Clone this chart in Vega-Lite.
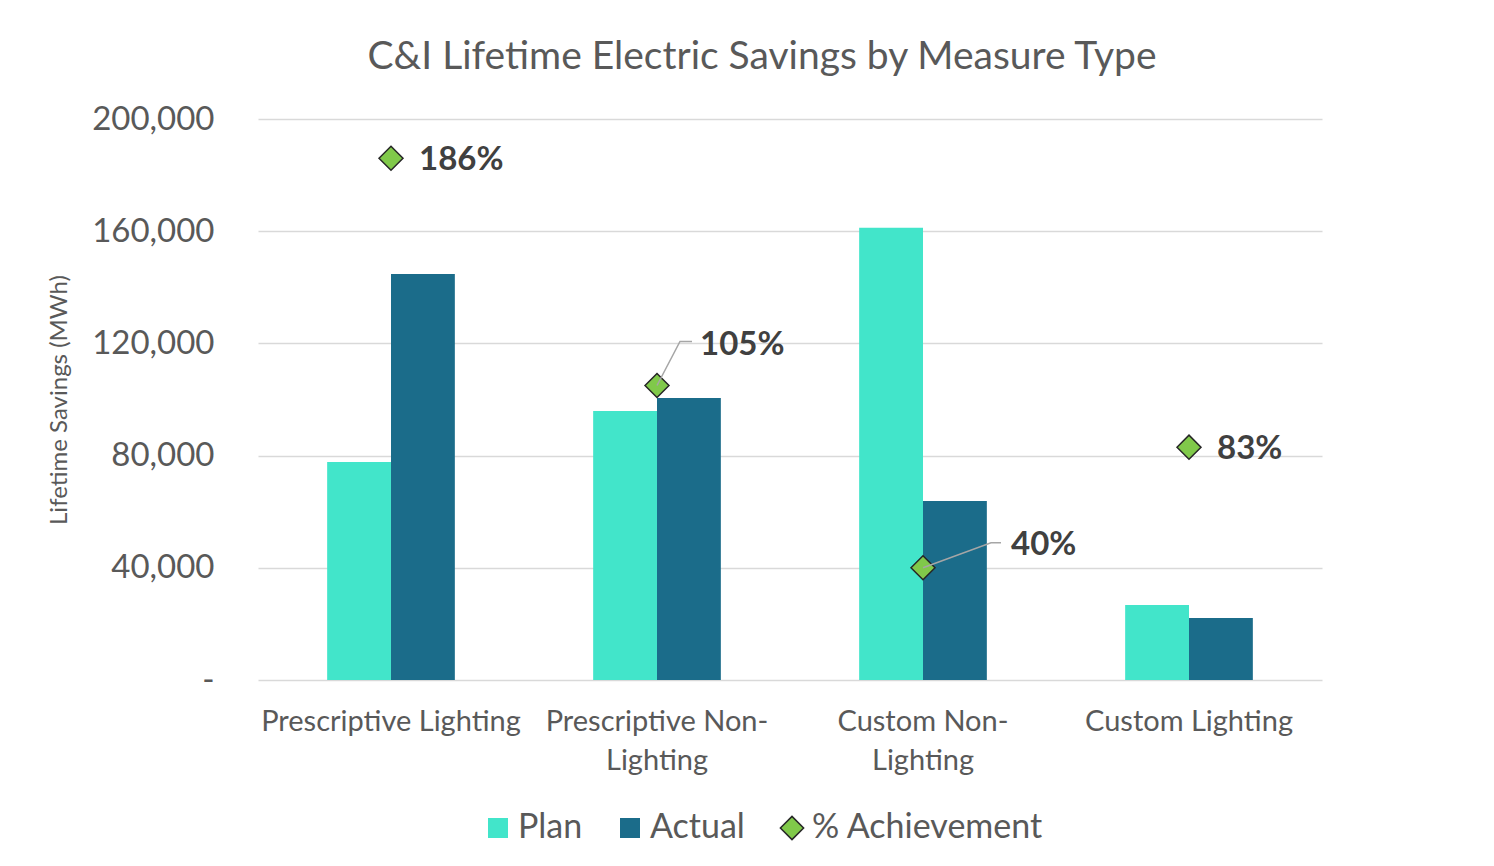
{
  "$schema": "https://vega.github.io/schema/vega-lite/v6.json",
  "width": 1064,
  "height": 561,
  "autosize": {"type": "none"},
  "padding": {"left": 258, "top": 119, "right": 172, "bottom": 186},
  "background": "white",
  "config": {
    "font": "Lato",
    "view": {"stroke": null},
    "axis": {"labelFont": "Lato", "titleFont": "Lato"},
    "legend": {"labelFont": "Lato"}
  },
  "title": {
    "text": "C&I Lifetime Electric Savings by Measure Type",
    "font": "Lato",
    "fontSize": 39,
    "fontWeight": "normal",
    "color": "#595959",
    "anchor": "middle",
    "offset": 26,
    "dx": -28
  },
  "datasets": {
    "bars": [
      {"measure": "Prescriptive Lighting", "series": "Plan", "value": 77700},
      {"measure": "Prescriptive Lighting", "series": "Actual", "value": 144700},
      {"measure": "Prescriptive Non-Lighting", "series": "Plan", "value": 95900},
      {"measure": "Prescriptive Non-Lighting", "series": "Actual", "value": 100500},
      {"measure": "Custom Non-Lighting", "series": "Plan", "value": 161200},
      {"measure": "Custom Non-Lighting", "series": "Actual", "value": 63800},
      {"measure": "Custom Lighting", "series": "Plan", "value": 26700},
      {"measure": "Custom Lighting", "series": "Actual", "value": 22100}
    ],
    "pct": [
      {"measure": "Prescriptive Lighting", "pct": 1.86},
      {"measure": "Prescriptive Non-Lighting", "pct": 1.05},
      {"measure": "Custom Non-Lighting", "pct": 0.40},
      {"measure": "Custom Lighting", "pct": 0.83}
    ]
  },
  "layer": [
    {
      "data": {"name": "bars"},
      "mark": {"type": "bar"},
      "encoding": {
        "x": {
          "field": "measure",
          "type": "nominal",
          "sort": ["Prescriptive Lighting", "Prescriptive Non-Lighting", "Custom Non-Lighting", "Custom Lighting"],
          "scale": {"paddingInner": 0.52, "paddingOuter": 0.26},
          "axis": {
            "title": null,
            "labelAngle": 0,
            "domain": false,
            "ticks": false,
            "labelFontSize": 29,
            "labelColor": "#595959",
            "labelPadding": 27,
            "labelLineHeight": 39,
            "labelBaseline": "top",
            "labelLimit": 0,
            "labelExpr": "datum.value == 'Prescriptive Non-Lighting' ? ['Prescriptive Non-', 'Lighting'] : datum.value == 'Custom Non-Lighting' ? ['Custom Non-', 'Lighting'] : datum.value"
          }
        },
        "xOffset": {
          "field": "series",
          "type": "nominal",
          "sort": ["Plan", "Actual"],
          "scale": {"paddingInner": 0, "paddingOuter": 0}
        },
        "y": {
          "field": "value",
          "type": "quantitative",
          "scale": {"domain": [0, 200000]},
          "axis": {
            "title": "Lifetime Savings (MWh)",
            "titleFontSize": 24,
            "titleFontWeight": "normal",
            "titleColor": "#595959",
            "titlePadding": 20,
            "values": [0, 40000, 80000, 120000, 160000, 200000],
            "grid": true,
            "gridColor": "#D9D9D9",
            "gridWidth": 1.5,
            "domain": false,
            "ticks": false,
            "labelFontSize": 33,
            "labelColor": "#595959",
            "labelPadding": 44,
            "labelExpr": "datum.value == 0 ? '-\u00a0\u00a0\u00a0' : format(datum.value, ',')"
          }
        },
        "color": {
          "field": "series",
          "type": "nominal",
          "scale": {
            "domain": ["Plan", "Actual", "% Achievement"],
            "range": ["#42E5CA", "#1B6C8A", "#80C94A"]
          },
          "legend": {
            "title": null,
            "orient": "none",
            "direction": "horizontal",
            "legendX": 223,
            "legendY": 692,
            "labelFontSize": 34,
            "labelColor": "#595959",
            "labelLimit": 0,
            "labelOffset": 3,
            "columnPadding": 30,
            "symbolType": "square",
            "symbolSize": 400,
            "symbolOpacity": 1,
            "encode": {
              "symbols": {
                "update": {
                  "shape": {"signal": "datum.value === '% Achievement' ? 'diamond' : 'square'"},
                  "size": {"signal": "datum.value === '% Achievement' ? 540 : 400"},
                  "stroke": {"signal": "datum.value === '% Achievement' ? '#262626' : 'transparent'"},
                  "strokeWidth": {"value": 1.5}
                }
              }
            }
          }
        }
      }
    },
    {
      "data": {"name": "pct"},
      "encoding": {
        "x": {
          "field": "measure",
          "type": "nominal",
          "sort": ["Prescriptive Lighting", "Prescriptive Non-Lighting", "Custom Non-Lighting", "Custom Lighting"]
        },
        "y": {
          "field": "pct",
          "type": "quantitative",
          "scale": {"domain": [0, 2]},
          "axis": null
        }
      },
      "layer": [
        {
          "mark": {"type": "point", "shape": "diamond", "filled": true, "size": 576, "stroke": "#262626", "strokeWidth": 1.5, "opacity": 1},
          "encoding": {"color": {"datum": "% Achievement"}}
        },
        {
          "transform": [{"filter": "datum.measure == 'Prescriptive Non-Lighting'"}],
          "mark": {"type": "point", "shape": "M0,0L23,-44L35,-44", "filled": false, "size": 4, "color": "#A6A6A6", "strokeWidth": 1.5, "opacity": 1}
        },
        {
          "transform": [{"filter": "datum.measure == 'Custom Non-Lighting'"}],
          "mark": {"type": "point", "shape": "M0,0L68,-25L78,-25", "filled": false, "size": 4, "color": "#A6A6A6", "strokeWidth": 1.5, "opacity": 1}
        },
        {
          "transform": [{"filter": "datum.measure == 'Prescriptive Lighting' || datum.measure == 'Custom Lighting'"}],
          "mark": {"type": "text", "align": "left", "baseline": "middle", "dx": 28, "dy": 2, "fontSize": 33, "fontWeight": "bold", "color": "#404040"},
          "encoding": {"text": {"field": "pct", "type": "quantitative", "format": ".0%"}}
        },
        {
          "transform": [{"filter": "datum.measure == 'Prescriptive Non-Lighting'"}],
          "mark": {"type": "text", "align": "left", "baseline": "middle", "dx": 43, "dy": -40, "fontSize": 33, "fontWeight": "bold", "color": "#404040"},
          "encoding": {"text": {"field": "pct", "type": "quantitative", "format": ".0%"}}
        },
        {
          "transform": [{"filter": "datum.measure == 'Custom Non-Lighting'"}],
          "mark": {"type": "text", "align": "left", "baseline": "middle", "dx": 88, "dy": -23, "fontSize": 33, "fontWeight": "bold", "color": "#404040"},
          "encoding": {"text": {"field": "pct", "type": "quantitative", "format": ".0%"}}
        }
      ]
    }
  ],
  "resolve": {"scale": {"y": "independent"}}
}
